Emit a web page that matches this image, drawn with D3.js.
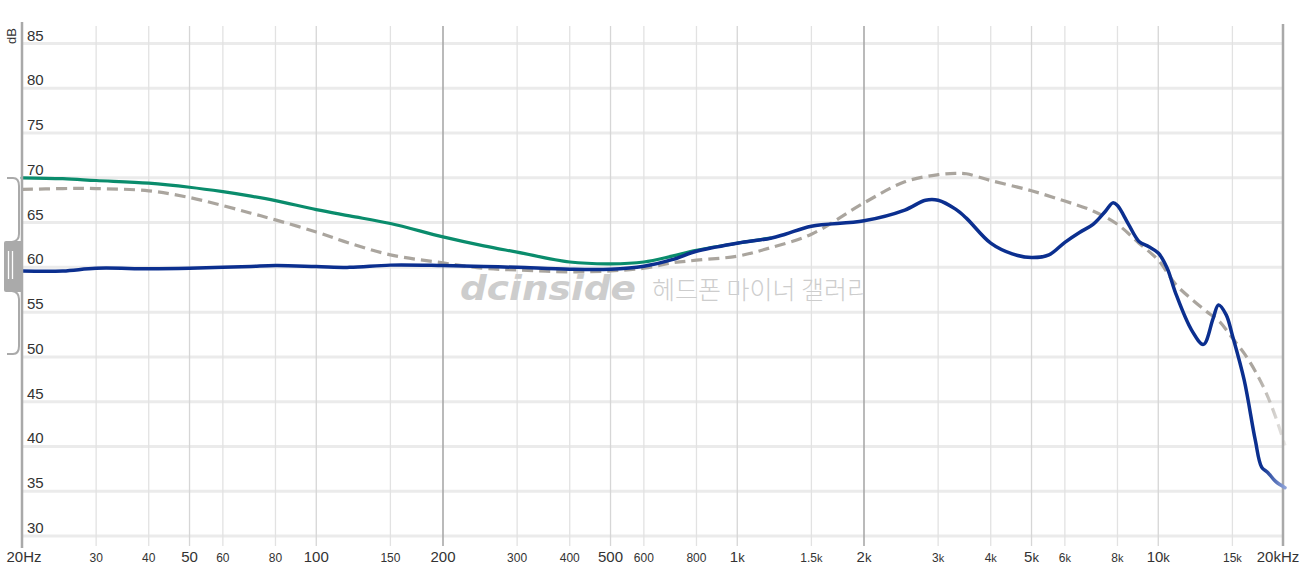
<!DOCTYPE html>
<html><head><meta charset="utf-8">
<script src="https://cdn.jsdelivr.net/npm/d3@7"></script>
<style>html,body{margin:0;padding:0;background:#fff;}svg{display:block;}</style>
</head><body>
<svg id="chart" width="1300" height="580"></svg>
<script>
// ---- data ----
const yTicks = [30,35,40,45,50,55,60,65,70,75,80,85];
const xTicks = [20,30,40,50,60,80,100,150,200,300,400,500,600,800,1000,1500,2000,3000,4000,5000,6000,8000,10000,15000,20000];
const xTickLabels = ["20Hz","30","40","50","60","80","100","150","200","300","400","500","600","800","1k","1.5k","2k","3k","4k","5k","6k","8k","10k","15k","20kHz"];
const bigTicks = [20,50,100,200,500,1000,2000,5000,10000,20000];

const blueFreq = [20,25,30,40,50,60,70,80,100,120,150,200,250,300,400,500,600,700,800,1000,1200,1300,1500,2000,2500,2800,3000,3300,3500,4000,4500,5000,5500,6000,6500,7000,7500,7800,8000,8500,9000,9500,10000,10500,11000,12000,12800,13500,13900,14500,15000,16000,17000,17600,18200,19000,20000];
const blueDb   = [59.6,59.6,59.9,59.85,59.9,60.0,60.1,60.2,60.1,60.0,60.25,60.2,60.1,60.0,59.8,59.8,60.13,60.86,61.8,62.7,63.26,63.7,64.6,65.2,66.4,67.5,67.5,66.5,65.5,62.7,61.5,61.1,61.4,62.8,63.9,64.8,66.3,67.2,66.9,64.8,62.9,62.3,61.6,59.9,57.1,53.0,51.4,54.3,55.8,54.7,52.4,47.4,40.7,37.7,37.1,36.1,35.4];

const greenFreq = [20,25,30,40,50,60,70,80,100,120,150,200,250,300,400,500,600,700,800,1000,1200];
const greenDb   = [70.0,69.9,69.7,69.4,68.95,68.45,67.95,67.45,66.45,65.75,64.9,63.4,62.4,61.7,60.6,60.4,60.6,61.25,61.9,62.7,63.26];

const targetFreq = [20,25,30,40,50,60,70,80,100,120,150,200,250,300,400,500,600,700,800,1000,1200,1500,2000,2500,3000,3300,3500,4000,5000,6000,7000,8000,9000,10000,11000,12000,13000,14000,15000,16000,17000,18000,19000,20000];
const targetDb   = [68.7,68.8,68.8,68.55,67.8,66.9,66.05,65.3,63.95,62.7,61.4,60.5,59.9,59.7,59.5,59.6,59.9,60.5,60.8,61.25,62.2,63.7,67.2,69.55,70.35,70.5,70.45,69.7,68.55,67.4,66.3,64.8,62.7,60.8,58.1,56.45,55.1,53.9,52.1,50.4,48.4,46.1,43.3,40.1];

// ---- layout ----
const svg = d3.select("#chart");
const x = d3.scaleLog().domain([20,20000]).range([22,1285]);
const y = d3.scaleLinear().domain([30,85]).range([536,43.5]);
const gridTop = 26, gridBottom = 546;

const defs = svg.append("defs");
const gB = defs.append("linearGradient").attr("id","blueFade").attr("gradientUnits","userSpaceOnUse")
  .attr("x1",1262).attr("x2",1285).attr("y1",0).attr("y2",0);
gB.append("stop").attr("offset",0).attr("stop-color","#0b2f8f");
gB.append("stop").attr("offset",1).attr("stop-color","#8ea2d8");
const gT = defs.append("linearGradient").attr("id","tgtFade").attr("gradientUnits","userSpaceOnUse")
  .attr("x1",1255).attr("x2",1285).attr("y1",0).attr("y2",0);
gT.append("stop").attr("offset",0).attr("stop-color","#aaa59e").attr("stop-opacity",1);
gT.append("stop").attr("offset",1).attr("stop-color","#aaa59e").attr("stop-opacity",0.25);
defs.append("clipPath").attr("id","wmclip").append("rect").attr("x",640).attr("y",260).attr("width",224).attr("height",60);

// horizontal grid
svg.append("g").selectAll("line").data(yTicks).join("line")
  .attr("x1",22).attr("x2",1283).attr("y1",d=>y(d)).attr("y2",d=>y(d))
  .attr("stroke","#ebebeb").attr("stroke-width",3);

// vertical grid
const medium = [50,100,500,1000,5000,10000];
svg.append("g").selectAll("line").data(xTicks.filter(d=>d!==20 && d!==20000)).join("line")
  .attr("x1",d=>x(d)).attr("x2",d=>x(d)).attr("y1",gridTop).attr("y2",gridBottom)
  .attr("stroke",d=> (d===200||d===2000) ? "#a9a9a9" : (medium.includes(d) ? "#d6d6d6" : "#e2e2e2"))
  .attr("stroke-width",d=> (d===200||d===2000) ? 1.6 : 1.3);

// right border
svg.append("line").attr("x1",1283).attr("x2",1283).attr("y1",gridTop-2).attr("y2",gridBottom)
  .attr("stroke","#a9a9a9").attr("stroke-width",2.5);

// watermark
svg.append("text").attr("x",460).attr("y",300)
  .attr("font-family","'DejaVu Sans', sans-serif").attr("font-weight","bold").attr("font-style","italic")
  .attr("font-size",34).attr("fill","#cdcdcd")
  .attr("textLength",176).attr("lengthAdjust","spacingAndGlyphs").text("dcinside");
svg.append("text").attr("x",652).attr("y",299).attr("clip-path","url(#wmclip)")
  .attr("font-family","'Noto Sans CJK KR', sans-serif").attr("font-weight",300)
  .attr("font-size",25).attr("fill","#cdcdcd").text("헤드폰 마이너 갤러리");

// curves
const line = d3.line().x(d=>x(d[0])).y(d=>y(d[1])).curve(d3.curveCatmullRom.alpha(0.5));
const zip = (a,b)=>a.map((f,i)=>[f,b[i]]);
svg.append("path").attr("d",line(zip(greenFreq,greenDb))).attr("fill","none")
  .attr("stroke","#0a8c6c").attr("stroke-width",3.2).attr("stroke-linecap","round");
svg.append("path").attr("d",line(zip(targetFreq,targetDb))).attr("fill","none")
  .attr("stroke","url(#tgtFade)").attr("stroke-width",3.2).attr("stroke-dasharray","11,6");
svg.append("path").attr("d",line(zip(blueFreq,blueDb))).attr("fill","none")
  .attr("stroke","url(#blueFade)").attr("stroke-width",3.5).attr("stroke-linecap","round");

// left axis line
svg.append("line").attr("x1",22).attr("x2",22).attr("y1",22).attr("y2",548)
  .attr("stroke","#a9a9a9").attr("stroke-width",2.5);

// y labels
svg.append("g").selectAll("text").data(yTicks).join("text")
  .attr("x",27).attr("y",d=>y(d)-3)
  .attr("font-family","'Liberation Sans', Arial, sans-serif").attr("font-size",15)
  .attr("fill","#333").text(d=>d);
svg.append("text").attr("transform","translate(16,36) rotate(-90)").attr("text-anchor","middle")
  .attr("font-family","'Liberation Sans', Arial, sans-serif").attr("font-size",13).attr("fill","#333").text("dB");

// x labels
const xl = svg.append("g").selectAll("text").data(xTicks).join("text")
  .attr("x",d=>x(d)).attr("y",562).attr("text-anchor","middle")
  .attr("font-family","'Liberation Sans', Arial, sans-serif")
  .attr("font-size",d=>bigTicks.includes(d)?15:12)
  .attr("fill","#333");
xl.each(function(d,i){
  const lab = xTickLabels[i];
  const t = d3.select(this);
  if (d===20) { t.attr("x",24).text(lab); return; }
  if (d===20000) { t.attr("x",1278).text(lab); return; }
  const m = lab.match(/^([\d.]+)k$/);
  if (m) {
    t.append("tspan").text(m[1]);
    t.append("tspan").attr("font-size",bigTicks.includes(d)?13:11).text("k");
  } else t.text(lab);
});

// left slider bracket
const br = svg.append("g").attr("fill","none").attr("stroke","#aaaaaa").attr("stroke-width",2);
br.append("path").attr("d","M7,178 L13,178 Q19,178 19,186 L19,234 Q19,241 12,242");
br.append("path").attr("d","M12,291 Q19,292 19,299 L19,346 Q19,354 13,354 L7,354");
svg.append("rect").attr("x",4).attr("y",241).attr("width",19).attr("height",51).attr("rx",2).attr("fill","#aaaaaa");
svg.append("line").attr("x1",8.5).attr("x2",8.5).attr("y1",251).attr("y2",279).attr("stroke","#fff").attr("stroke-width",1.3);
svg.append("line").attr("x1",12.5).attr("x2",12.5).attr("y1",251).attr("y2",279).attr("stroke","#fff").attr("stroke-width",1.3);
</script>
</body></html>
